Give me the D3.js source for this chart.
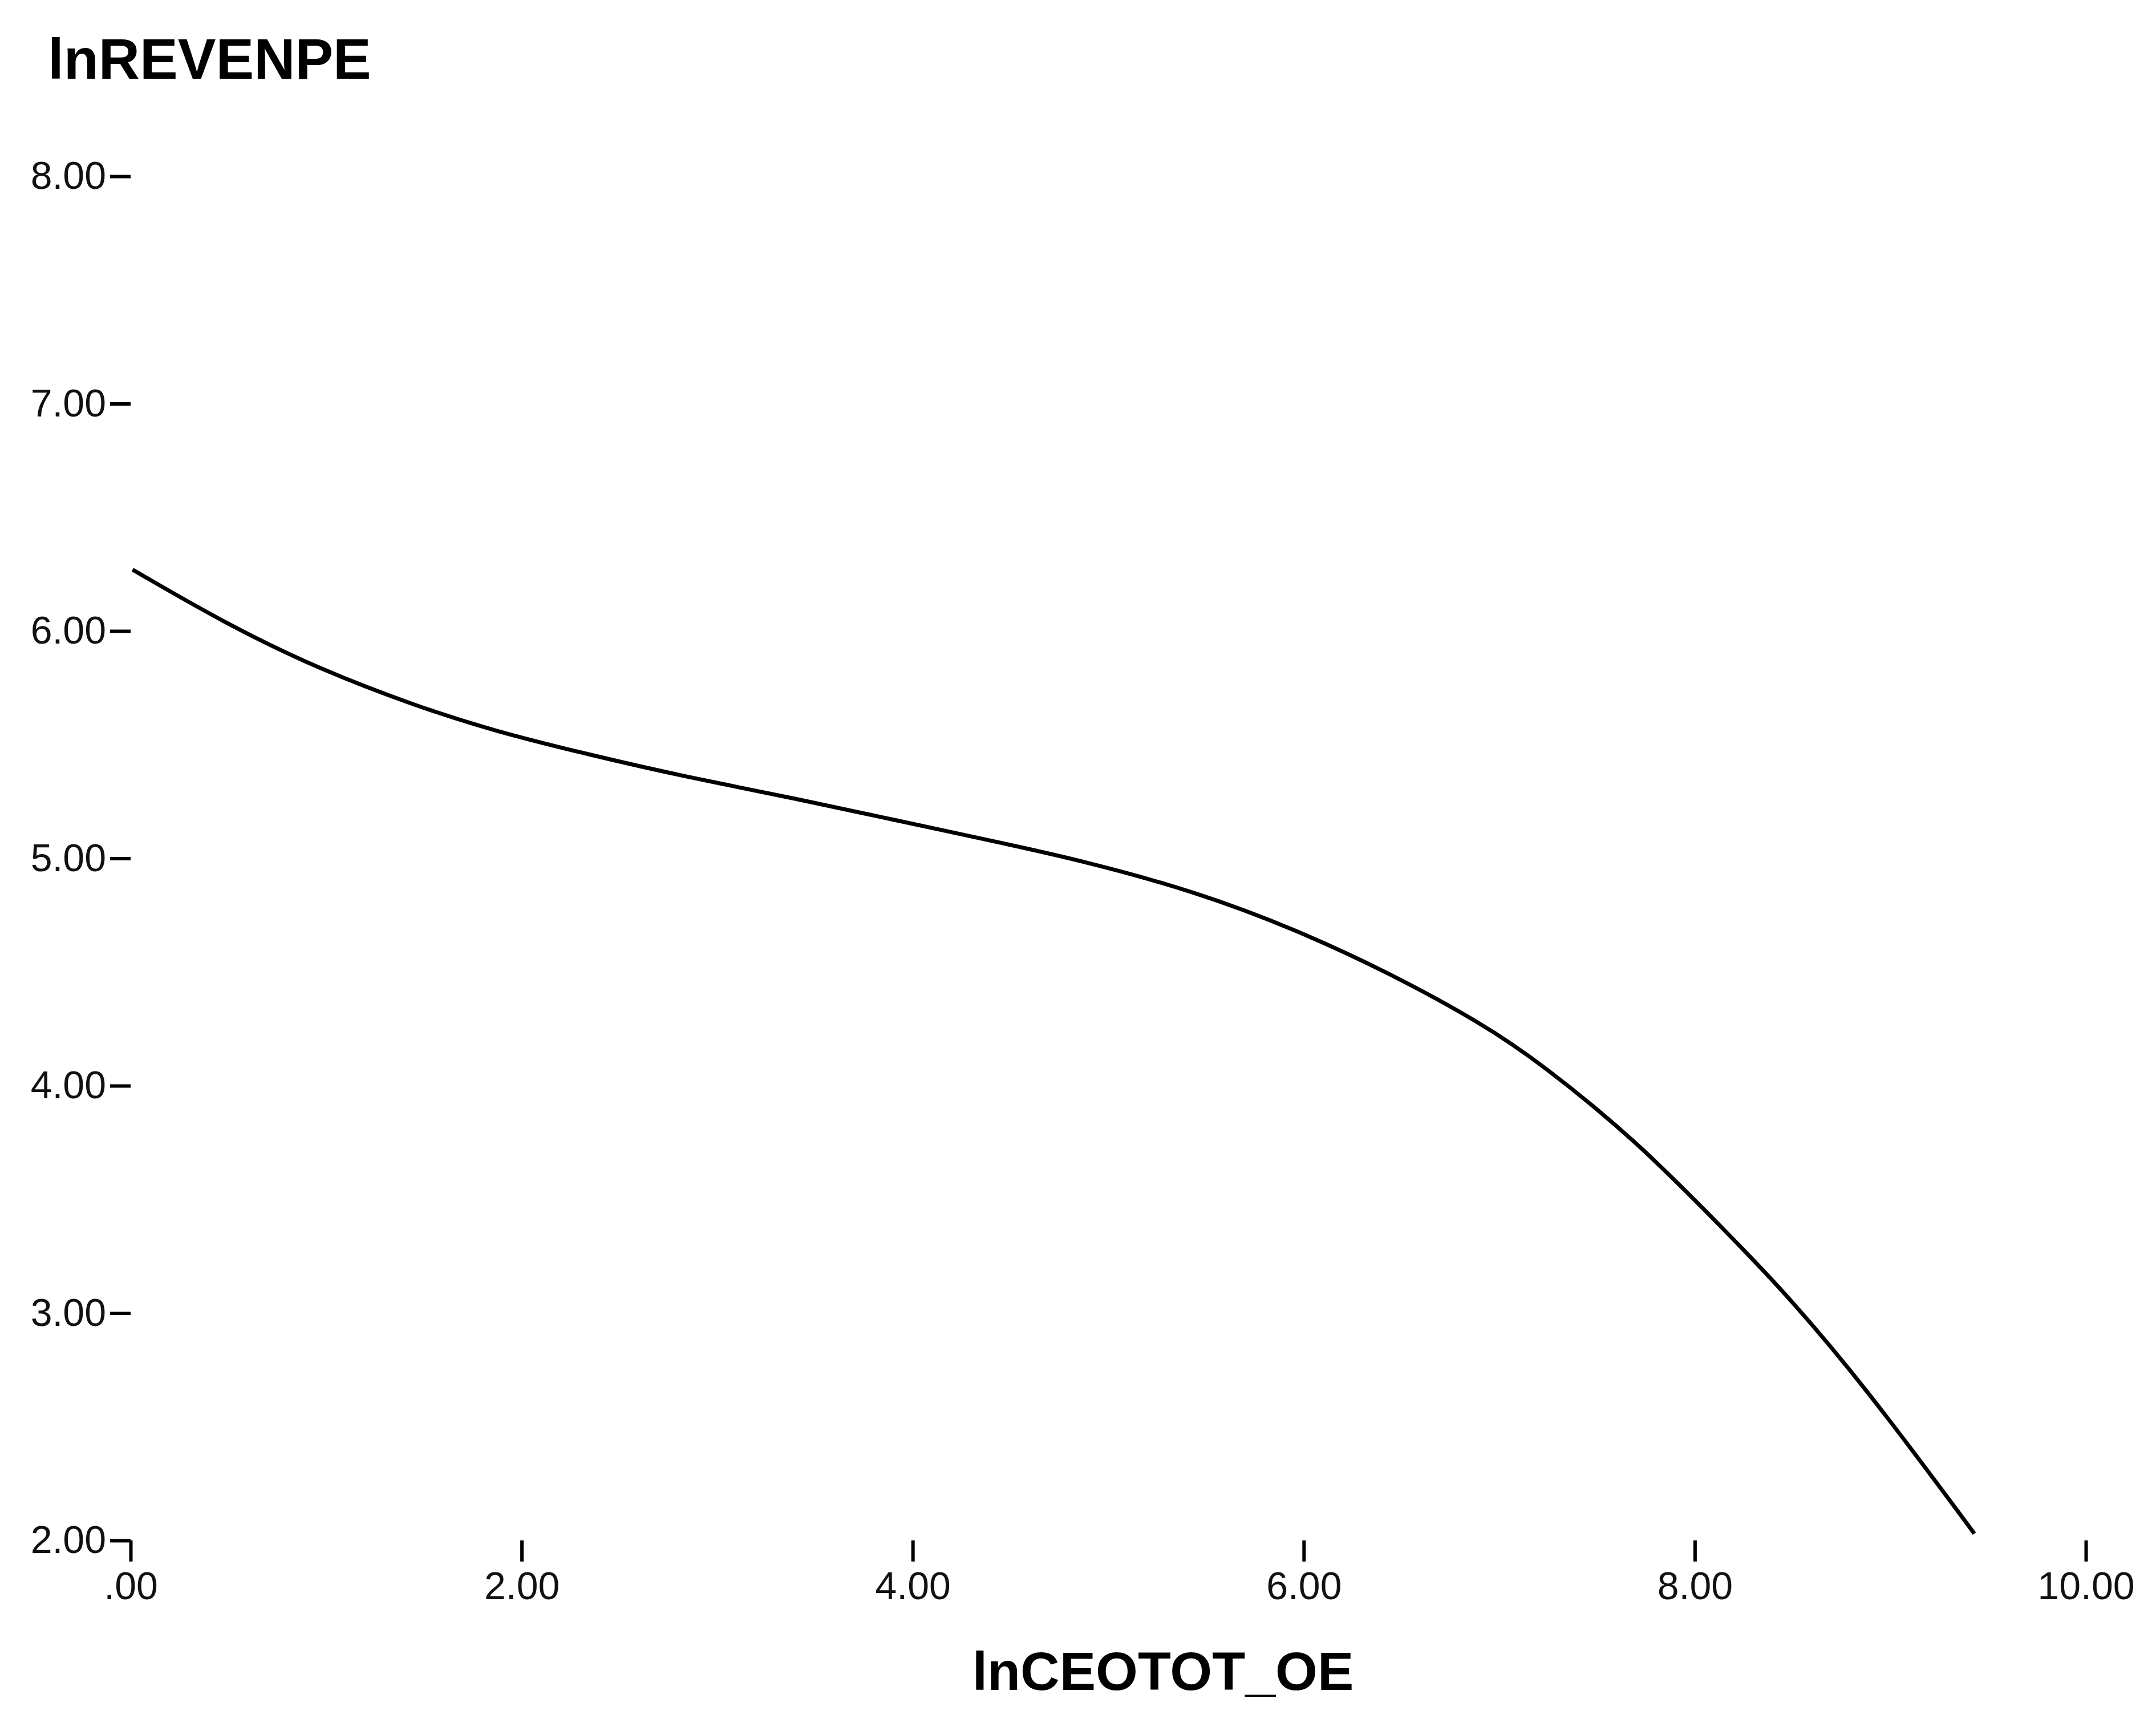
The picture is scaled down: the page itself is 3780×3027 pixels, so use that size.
<!DOCTYPE html>
<html>
<head>
<meta charset="utf-8">
<script src="https://cdn.jsdelivr.net/npm/d3@7"></script>
<style>
  html, body { margin: 0; padding: 0; background: #fff; }
  svg { display: block; }
</style>
</head>
<body>
<div id="d3-container"></div>
<script>
"use strict"

/**
 * DATA
 * */
const curveX = [0.01, 0.49, 0.97, 1.46, 1.86, 2.35, 2.83, 3.42, 3.90, 4.39, 4.87,
  5.46, 5.95, 6.43, 6.92, 7.21, 7.70, 8.18, 8.44, 8.86, 9.43];
const curveY = [6.27, 6.03, 5.83, 5.67, 5.56, 5.455, 5.36, 5.26, 5.17, 5.08, 4.99,
  4.85, 4.69, 4.50, 4.27, 4.10, 3.76, 3.34, 3.11, 2.69, 2.03];

const xTicks = [0, 2, 4, 6, 8, 10];
const xTickLabels = [".00", "2.00", "4.00", "6.00", "8.00", "10.00"];
const yTicks = [2, 3, 4, 5, 6, 7, 8];
const yTickLabels = ["2.00", "3.00", "4.00", "5.00", "6.00", "7.00", "8.00"];

const xTitle = "lnCEOTOT_OE";
const yTitle = "lnREVENPE";

/**
 * CONSTANTS
 * */
const width = 3780,
  height = 3027;

const font = "'Liberation Sans', Arial, sans-serif";

const svg = d3.select("#d3-container")
  .append("svg")
  .attr("width", width)
  .attr("height", height)
  .style("background", "white");

const x = d3.scaleLinear().domain([0, 10]).range([229, 3657]);
const y = d3.scaleLinear().domain([2, 8]).range([2700, 309]);

// y axis
const yAxis = svg.append("g")
  .attr("transform", `translate(${x(0)},0)`)
  .call(d3.axisLeft(y)
    .tickValues(yTicks)
    .tickFormat((d, i) => yTickLabels[i])
    .tickSize(36)
    .tickPadding(7));

// x axis
const xAxis = svg.append("g")
  .attr("transform", `translate(0,${y(2)})`)
  .call(d3.axisBottom(x)
    .tickValues(xTicks)
    .tickFormat((d, i) => xTickLabels[i])
    .tickSize(37)
    .tickPadding(18));

[yAxis, xAxis].forEach(ax => {
  ax.select(".domain").remove();
  ax.selectAll(".tick line")
    .attr("stroke", "#000")
    .attr("stroke-width", 6);
  ax.selectAll(".tick text")
    .style("font-family", font)
    .style("font-size", "68px")
    .attr("fill", "#111");
});

// fitted curve (basis smooths small reading jitter)
const line = d3.line()
  .x(d => x(d[0]))
  .y(d => y(d[1]))
  .curve(d3.curveBasis);

svg.append("path")
  .datum(curveX.map((v, i) => [v, curveY[i]]))
  .attr("fill", "none")
  .attr("stroke", "#000")
  .attr("stroke-width", 7)
  .attr("stroke-linejoin", "round")
  .attr("d", line);

// titles
svg.append("text")
  .attr("x", 84)
  .attr("y", 138)
  .style("font-family", font)
  .style("font-weight", "bold")
  .style("font-size", "100px")
  .text(yTitle);

svg.append("text")
  .attr("x", 2039)
  .attr("y", 2962)
  .attr("text-anchor", "middle")
  .style("font-family", font)
  .style("font-weight", "bold")
  .style("font-size", "95px")
  .text(xTitle);
</script>
</body>
</html>
